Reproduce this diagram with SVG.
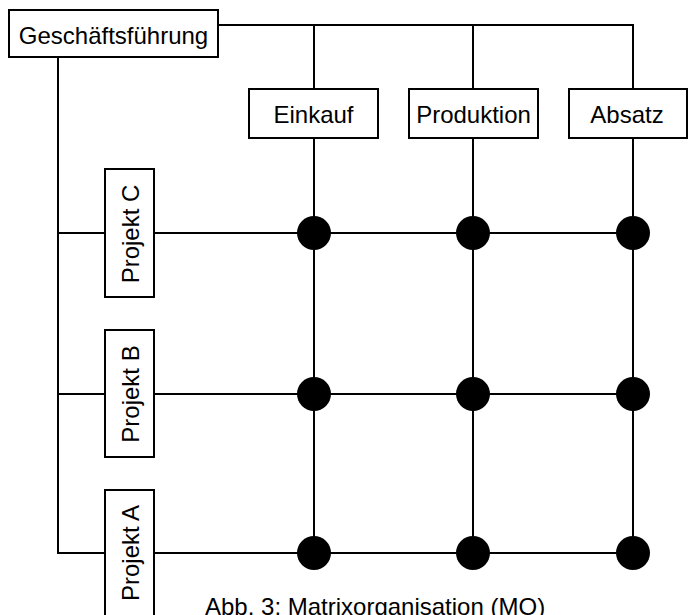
<svg xmlns="http://www.w3.org/2000/svg" width="688" height="615" viewBox="0 0 688 615">
  <style>
    .box { fill: #ffffff; stroke: #000000; stroke-width: 2; }
    .line { fill: none; stroke: #000000; stroke-width: 2; }
    .dot { fill: #000000; }
    .label { font-family: "Liberation Sans", Arial, sans-serif; font-size: 24px; fill: #000000; text-anchor: middle; }
  </style>
  <rect width="688" height="615" fill="#ffffff"/>

  <!-- connectors -->
  <g id="connectors">
    <!-- management to departments -->
    <polyline class="line" points="218,25 633,25 633,89"/>
    <line class="line" x1="314" y1="25" x2="314" y2="89"/>
    <line class="line" x1="473" y1="25" x2="473" y2="89"/>
    <!-- management to projects -->
    <polyline class="line" points="58,57 58,553 105,553"/>
    <line class="line" x1="58" y1="233" x2="105" y2="233"/>
    <line class="line" x1="58" y1="394" x2="105" y2="394"/>
    <!-- department columns -->
    <line class="line" x1="314" y1="138" x2="314" y2="553"/>
    <line class="line" x1="473" y1="138" x2="473" y2="553"/>
    <line class="line" x1="633" y1="138" x2="633" y2="553"/>
    <!-- project rows -->
    <line class="line" x1="154" y1="233" x2="633" y2="233"/>
    <line class="line" x1="154" y1="394" x2="633" y2="394"/>
    <line class="line" x1="154" y1="553" x2="633" y2="553"/>
  </g>

  <!-- matrix intersections -->
  <g id="intersections">
    <circle class="dot" cx="314" cy="233" r="17"/>
    <circle class="dot" cx="473" cy="233" r="17"/>
    <circle class="dot" cx="633" cy="233" r="17"/>
    <circle class="dot" cx="314" cy="394" r="17"/>
    <circle class="dot" cx="473" cy="394" r="17"/>
    <circle class="dot" cx="633" cy="394" r="17"/>
    <circle class="dot" cx="314" cy="553" r="17"/>
    <circle class="dot" cx="473" cy="553" r="17"/>
    <circle class="dot" cx="633" cy="553" r="17"/>
  </g>

  <g id="geschaeftsfuehrung">
    <rect class="box" x="9" y="10" width="209" height="47"/>
    <text class="label" x="113.5" y="43.5">Geschäftsführung</text>
  </g>

  <g id="einkauf">
    <rect class="box" x="249" y="89" width="129" height="49"/>
    <text class="label" x="313.5" y="122.5">Einkauf</text>
  </g>

  <g id="produktion">
    <rect class="box" x="409" y="89" width="129" height="49"/>
    <text class="label" x="473.5" y="122.5">Produktion</text>
  </g>

  <g id="absatz">
    <rect class="box" x="569" y="89" width="118" height="49"/>
    <text class="label" x="627" y="122.5">Absatz</text>
  </g>

  <g id="projekt-c">
    <rect class="box" x="105" y="169" width="49" height="128"/>
    <text class="label" transform="translate(138.5,234) rotate(-90)">Projekt C</text>
  </g>

  <g id="projekt-b">
    <rect class="box" x="105" y="330" width="49" height="127"/>
    <text class="label" transform="translate(138.5,394) rotate(-90)">Projekt B</text>
  </g>

  <g id="projekt-a">
    <rect class="box" x="105" y="490" width="49" height="140"/>
    <text class="label" transform="translate(138.5,553) rotate(-90)">Projekt A</text>
  </g>

  <g id="caption">
    <text class="label" x="205" y="615" style="text-anchor: start">Abb. 3: Matrixorganisation (MO)</text>
  </g>
</svg>
